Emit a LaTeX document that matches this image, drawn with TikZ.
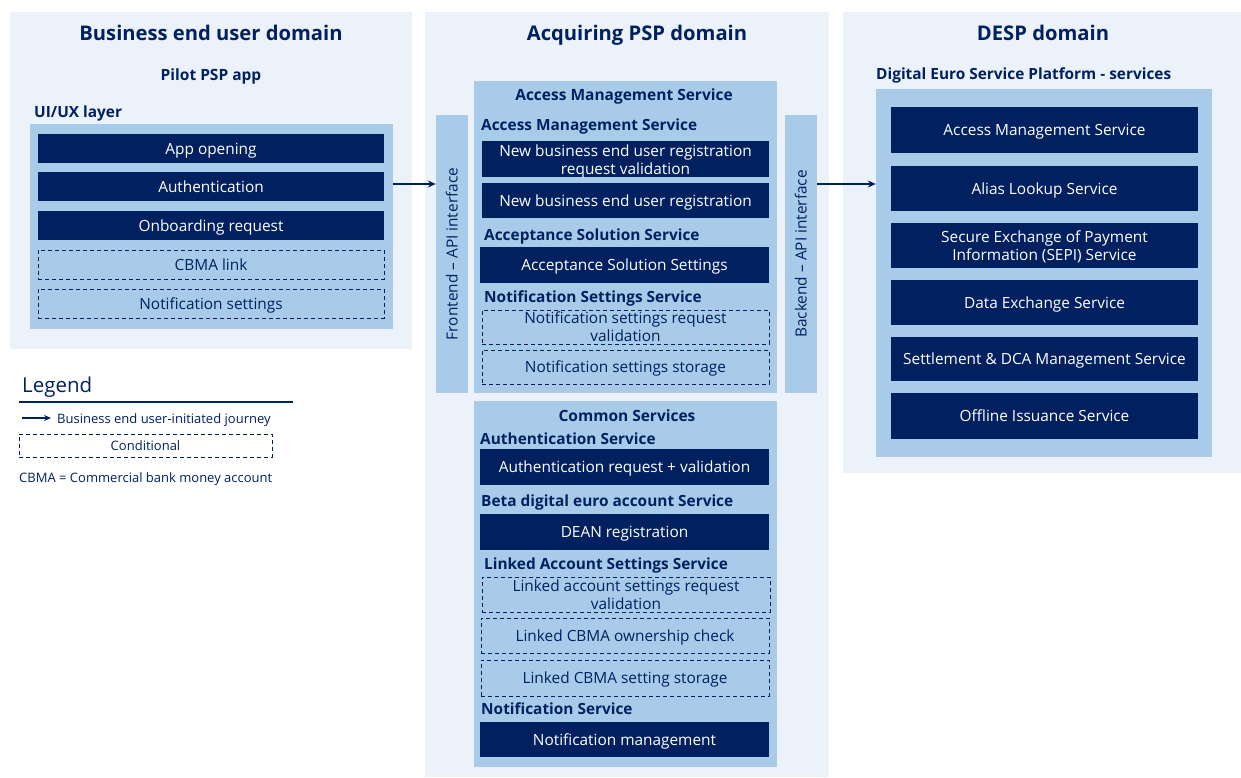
\documentclass[tikz,border=0pt]{standalone}
\usepackage{fontspec}
\setmainfont{Open Sans}
\usetikzlibrary{arrows.meta}
\definecolor{navy}{HTML}{002060}
\definecolor{midblue}{HTML}{A9CBEA}
\definecolor{lightbg}{HTML}{EBF2FA}
\tikzset{
  sl/.style={text height=#1, text depth=0pt},
  panel/.style={fill=lightbg, draw=none, inner sep=0},
  layer/.style={fill=midblue, draw=none, inner sep=0},
  dbox/.style={fill=navy, draw=none, text=white, align=center, inner sep=0,
    font=\fontsize{15.4}{17}\selectfont, sl=11.1pt},
  cbox/.style={draw=navy, dash pattern=on 4pt off 3pt, line width=1pt, text=navy,
    align=center, inner sep=0, font=\fontsize{15.4}{17}\selectfont, sl=11.1pt},
  mltw/.style={text=white, align=center, inner sep=0, font=\fontsize{15.4}{18}\selectfont},
  mltn/.style={text=navy, align=center, inner sep=0, font=\fontsize{15.4}{18}\selectfont},
  bar/.style={fill=midblue, draw=none, inner sep=0},
  title/.style={text=navy, font=\fontsize{20.2}{24}\selectfont\bfseries, inner sep=0, sl=14.5pt},
  subtitle/.style={text=navy, font=\fontsize{15.5}{18}\selectfont\bfseries, inner sep=0, sl=11.1pt},
  head/.style={text=navy, font=\fontsize{15.4}{18}\selectfont\bfseries, inner sep=0, anchor=west, sl=11.1pt},
  vlabel/.style={text=navy, font=\fontsize{15.4}{17}\selectfont, rotate=90, inner sep=0, sl=11.1pt},
  arr/.style={draw=navy, line width=1.5pt, -{Stealth[length=8pt,width=7pt]}},
  legtxt/.style={text=navy, font=\fontsize{13}{15}\selectfont, inner sep=0, anchor=west, sl=9.4pt},
}
\begin{document}
\begin{tikzpicture}[x=1pt,y=-1pt]
\useasboundingbox (0,0) rectangle (1241,778);
% ---------------- Left panel
\node[panel, minimum width=402, minimum height=337] (pL) at (211,180.5) {};
\node[title] (tL) at (211,33) {Business end user domain};
\node[subtitle] (tApp) at (211,75) {Pilot PSP app};
\node[head] (tUI) at (34,112) {UI/UX layer};
\node[layer, minimum width=363, minimum height=205] (lL) at (211.5,226.5) {};
\node[dbox, minimum width=346, minimum height=29] (b1) at (211,148.5) {App opening};
\node[dbox, minimum width=346, minimum height=29] (b2) at (211,186.5) {Authentication};
\node[dbox, minimum width=346, minimum height=29] (b3) at (211,225.5) {Onboarding request};
\node[cbox, minimum width=346, minimum height=29] (b4) at (211,264.5) {CBMA link};
\node[cbox, minimum width=346, minimum height=29] (b5) at (211,303.5) {Notification settings};
% ---------------- Middle panel
\node[panel, minimum width=404, minimum height=765] (pM) at (627,394.5) {};
\node[title] (tM) at (637,33) {Acquiring PSP domain};
\node[layer, minimum width=303, minimum height=312] (lM1) at (625.5,237) {};
\node[bar, minimum width=32, minimum height=278] (fe) at (452,254) {};
\node[vlabel] (feT) at (452,254) {Frontend – API interface};
\node[bar, minimum width=32, minimum height=278] (be) at (801,254) {};
\node[vlabel] (beT) at (801,254) {Backend – API interface};
\node[subtitle] (hAM) at (624,95) {Access Management Service};
\node[head] (hAM2) at (481,125) {Access Management Service};
\node[dbox, minimum width=287, minimum height=36] (m1) at (625.5,159) {};
\node[mltw] (m1t) at ([yshift=-2pt]m1.center) {New business end user registration\\request validation};
\node[dbox, minimum width=287, minimum height=35] (m2) at (625.5,200.5) {New business end user registration};
\node[head] (hAS) at (484,235) {Acceptance Solution Service};
\node[dbox, minimum width=289, minimum height=36] (m3) at (624.5,265) {Acceptance Solution Settings};
\node[head] (hNS) at (484,297) {Notification Settings Service};
\node[cbox, minimum width=287, minimum height=34] (m4) at (625.5,327) {};
\node[mltn] (m4t) at (m4.center) {Notification settings request\\validation};
\node[cbox, minimum width=287, minimum height=34] (m5) at (625.5,367) {Notification settings storage};
% bottom layer
\node[layer, minimum width=303, minimum height=366] (lM2) at (625.5,584) {};
\node[subtitle] (hCS) at (627,416) {Common Services};
\node[head] (hAu) at (480,439) {Authentication Service};
\node[dbox, minimum width=289, minimum height=36] (c1) at (624.5,467) {Authentication request + validation};
\node[head] (hBD) at (481,501) {Beta digital euro account Service};
\node[dbox, minimum width=289, minimum height=36] (c2) at (624.5,532) {DEAN registration};
\node[head] (hLA) at (484,564) {Linked Account Settings Service};
\node[cbox, minimum width=288, minimum height=35] (c3) at (626,594.5) {};
\node[mltn] (c3t) at (c3.center) {Linked account settings request\\validation};
\node[cbox, minimum width=288, minimum height=35] (c4) at (625,635.5) {Linked CBMA ownership check};
\node[cbox, minimum width=288, minimum height=36] (c5) at (625,678) {Linked CBMA setting storage};
\node[head] (hN) at (481,709) {Notification Service};
\node[dbox, minimum width=289, minimum height=35] (c6) at (624.5,739.5) {Notification management};
% ---------------- Right panel
\node[panel, minimum width=398, minimum height=461] (pR) at (1042,242.5) {};
\node[title] (tR) at (1043,33) {DESP domain};
\node[head] (hDE) at (876,74) {Digital Euro Service Platform - services};
\node[layer, minimum width=336, minimum height=368] (lR) at (1044,273) {};
\node[dbox, minimum width=307, minimum height=46] (r1) at (1044.5,130) {Access Management Service};
\node[dbox, minimum width=307, minimum height=45] (r2) at (1044.5,188.5) {Alias Lookup Service};
\node[dbox, minimum width=307, minimum height=45] (r3) at (1044.5,245.5) {};
\node[mltw] (r3t) at ([yshift=-1pt]r3.center) {Secure Exchange of Payment\\Information (SEPI) Service};
\node[dbox, minimum width=307, minimum height=45] (r4) at (1044.5,302.5) {Data Exchange Service};
\node[dbox, minimum width=307, minimum height=44] (r5) at (1044.5,359) {Settlement \& DCA Management Service};
\node[dbox, minimum width=307, minimum height=46] (r6) at (1044.5,416) {Offline Issuance Service};
% ---------------- Connectors
\draw[arr] (lL.east |- 0,184) -- (fe.west |- 0,184);
\draw[arr] (be.east |- 0,184) -- (lR.west |- 0,184);
% ---------------- Legend
\node[text=navy, font=\fontsize{20.5}{24}\selectfont, inner sep=0, anchor=west, sl=14.8pt] (leg) at (22,385) {Legend};
\coordinate (lg1) at (19,402);
\coordinate (lg2) at (293,402);
\draw[navy, line width=1.2pt] (lg1) -- (lg2);
\coordinate (la1) at (22,418);
\coordinate (la2) at (51,418);
\draw[navy, line width=1.5pt, -{Stealth[length=7pt,width=6pt]}] (la1) -- (la2);
\node[legtxt] (legA) at (57,419) {Business end user-initiated journey};
\node[cbox, minimum width=253, minimum height=23, font=\fontsize{13}{15}\selectfont, sl=9.4pt] (legC) at (145.5,445.5) {Conditional};
\node[legtxt] (legB) at (19,478) {CBMA = Commercial bank money account};
\end{tikzpicture}
\end{document}
